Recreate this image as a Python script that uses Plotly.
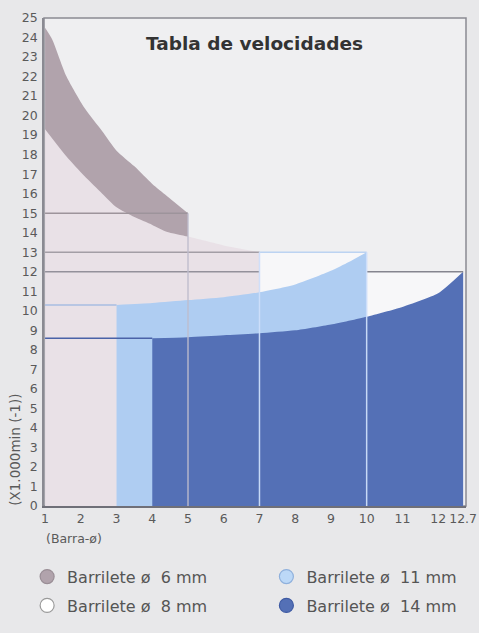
import plotly.graph_objects as go

# ---- data ----
x_6mm = [1.0, 1.2, 1.6, 2.1, 2.6, 3.0, 3.5, 4.0, 4.4, 5.0]
y_6mm = [24.5, 23.9, 22.0, 20.4, 19.2, 18.2, 17.4, 16.5, 15.9, 15.0]

x_8mm = [1.0, 1.6, 2.1, 2.6, 3.0, 3.5, 4.0, 4.4, 5.0, 6.0, 7.0]
y_8mm = [19.3, 17.9, 16.9, 16.0, 15.3, 14.8, 14.4, 14.05, 13.8, 13.35, 13.0]

x_11mm = [3.0, 4.0, 5.0, 6.0, 7.0, 8.0, 9.0, 9.5, 10.0]
y_11mm = [10.3, 10.4, 10.55, 10.7, 10.95, 11.35, 12.05, 12.5, 13.0]

x_14mm = [4.0, 5.0, 6.0, 7.0, 8.0, 9.0, 10.0, 11.0, 12.0, 12.7]
y_14mm = [8.6, 8.65, 8.75, 8.85, 9.0, 9.3, 9.7, 10.2, 10.9, 12.0]

x_ticks = [1, 2, 3, 4, 5, 6, 7, 8, 9, 10, 11, 12, 12.7]
x_tick_labels = ["1", "2", "3", "4", "5", "6", "7", "8", "9", "10", "11", "12", "12.7"]
y_ticks = list(range(0, 26))

series_names = ["Barrilete ø\u00a0\u00a06 mm", "Barrilete ø\u00a0\u00a08 mm",
                "Barrilete ø\u00a0\u00a011 mm", "Barrilete ø\u00a0\u00a014 mm"]

# ---- styles ----
C6 = "#b1a3ac"
C8 = "#e9e1e7"
C8_BOX = "#ede8ec"
C11 = "#afcdf2"
C14 = "#5470b6"
WHITE_BOX = "#f7f7f9"
X_MIN, X_MAX = x_ticks[0], x_ticks[-1]

fig = go.Figure()


def box(xs, ys, color):
    x0, x1, top = xs[0], xs[-1], ys[-1]
    fig.add_trace(go.Scatter(x=[x0, x1, x1, x0, x0], y=[0, 0, top, top, 0],
                             fill="toself", fillcolor=color, mode="none",
                             showlegend=False, hoverinfo="skip"))


def area(xs, ys, color):
    fig.add_trace(go.Scatter(x=xs, y=ys, fill="tozeroy", fillcolor=color, mode="lines",
                             line=dict(width=0, shape="spline", smoothing=0.6, color=color),
                             showlegend=False, hoverinfo="skip"))


def seg(x0, x1, y0, y1, color, width=1.5):
    fig.add_trace(go.Scatter(x=[x0, x1], y=[y0, y1], mode="lines",
                             line=dict(color=color, width=width),
                             showlegend=False, hoverinfo="skip"))


# envelope boxes
box(x_14mm, y_14mm, WHITE_BOX)
box(x_11mm, y_11mm, WHITE_BOX)
box(x_8mm, y_8mm, C8_BOX)

# areas
area(x_6mm, y_6mm, C6)
area(x_8mm, y_8mm, C8)
area(x_11mm, y_11mm, C11)
area(x_14mm, y_14mm, C14)

# guide lines
seg(X_MIN, x_6mm[-1], y_6mm[-1], y_6mm[-1], "#9d949b")
seg(X_MIN, x_8mm[-1], y_8mm[-1], y_8mm[-1], "#a39ea6")
seg(x_8mm[-1], x_11mm[-1], y_11mm[-1], y_11mm[-1], "#bcd3f2")
seg(X_MIN, x_8mm[-1], y_14mm[-1], y_14mm[-1], "#94919b")
seg(x_11mm[-1], X_MAX, y_14mm[-1], y_14mm[-1], "#85858f")
seg(X_MIN, x_11mm[0], y_11mm[0], y_11mm[0], "#a7bde2")
seg(X_MIN, x_14mm[0], y_14mm[0], y_14mm[0], "#4a62a8")
seg(x_6mm[-1], x_6mm[-1], 0, y_6mm[-1], "rgba(190,188,205,0.9)")
seg(x_8mm[-1], x_8mm[-1], 0, y_8mm[-1], "rgba(205,222,250,0.95)")
seg(x_11mm[-1], x_11mm[-1], 0, y_11mm[-1], "rgba(205,222,250,0.95)")

# legend entries
legend_colors = [C6, "#ffffff", "#bcd8f7", C14]
legend_lines = ["#9a8e96", "#9a9a9a", "#8fb0dc", "#3e5aa3"]
legend_ids = ["legend", "legend", "legend2", "legend2"]
for i, name in enumerate(series_names):
    fig.add_trace(go.Scatter(x=[None], y=[None], mode="markers", name=name,
                             legend=legend_ids[i], legendgroup=name,
                             marker=dict(symbol="circle", size=14, color=legend_colors[i],
                                         line=dict(color=legend_lines[i], width=1.2))))

legend_style = dict(orientation="v", xanchor="left", yanchor="top",
                    bgcolor="rgba(0,0,0,0)", tracegroupgap=5,
                    font=dict(family="DejaVu Sans", size=16, color="#555555"))

fig.update_layout(
    width=479, height=633,
    margin=dict(l=44, r=13, t=18, b=127, autoexpand=False),
    paper_bgcolor="#e8e8ea",
    plot_bgcolor="#efeff1",
    font=dict(family="DejaVu Sans", color="#5a5a5a", size=12),
    xaxis=dict(range=[0.97, 12.78], tickvals=x_ticks, ticktext=x_tick_labels,
               showgrid=False, zeroline=False, showline=True, linecolor="#6f6f78",
               linewidth=1.5, ticks="", tickfont=dict(size=12.5, color="#5a5a5a")),
    yaxis=dict(range=[0, 25], tickvals=y_ticks, showgrid=False, zeroline=False,
               showline=True, linecolor="#8a8a92", linewidth=1.5, ticks="",
               ticklabelstandoff=2, tickfont=dict(size=12.5, color="#5a5a5a")),
    legend=dict(x=-0.04, y=-0.11, **legend_style),
    legend2=dict(x=0.527, y=-0.11, **legend_style),
    shapes=[dict(type="rect", xref="paper", yref="paper", x0=0, x1=1, y0=0, y1=1,
                 line=dict(color="#8a8a92", width=1.5), layer="below")],
    annotations=[
        dict(text="<b>Tabla de velocidades</b>", xref="paper", yref="paper",
             x=0.498, y=0.948, showarrow=False, xanchor="center", yanchor="middle",
             font=dict(family="DejaVu Sans", size=18.5, color="#333333")),
        dict(text="(X1.000min (-1))", xref="paper", yref="paper", textangle=-90,
             x=-0.069, y=0.115, showarrow=False, xanchor="center", yanchor="middle",
             font=dict(family="DejaVu Sans", size=13.5, color="#5a5a5a")),
        dict(text="(Barra-ø)", xref="paper", yref="paper",
             x=0.0, y=-0.066, showarrow=False, xanchor="left", yanchor="middle",
             font=dict(family="DejaVu Sans", size=12.5, color="#5a5a5a")),
    ],
)

fig.write_html("out.html", config={"displayModeBar": False},
               post_script="document.body.style.margin='0';document.body.style.padding='0';")
